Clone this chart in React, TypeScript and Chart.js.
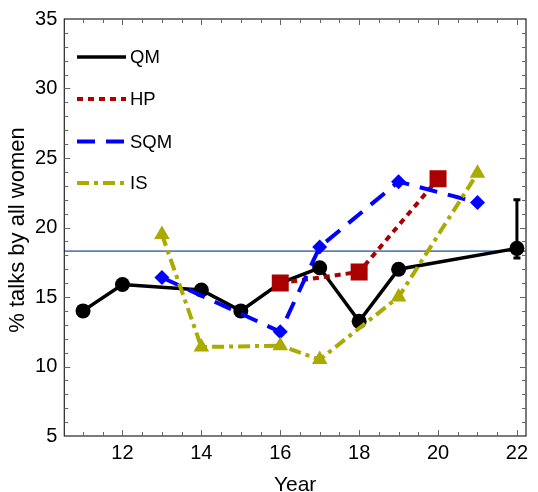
import React, { useEffect, useRef } from "react";
import { Chart, registerables } from "chart.js";
Chart.register(...registerables);

// ---- data ----
const qmYears = [11, 12, 14, 15, 16, 17, 18, 19, 22];
const qmValues = [14.0, 15.9, 15.5, 14.0, 16.0, 17.1, 13.25, 17.0, 18.5];
const hpYears = [16, 18, 20];
const hpValues = [16.0, 16.8, 23.5];
const sqmYears = [13, 16, 17, 19, 21];
const sqmValues = [16.4, 12.5, 18.6, 23.3, 21.8];
const isYears = [13, 14, 16, 17, 19, 21];
const isValues = [19.5, 11.4, 11.5, 10.5, 15.0, 23.9];
const referenceLevel = 18.3;
const qmErrorYear = 22;
const qmErrorLow = 17.8;
const qmErrorHigh = 22.0;
const xTickLabels = [12, 14, 16, 18, 20, 22];
const yTickLabels = [5, 10, 15, 20, 25, 30, 35];
const legendLabels = ["QM", "HP", "SQM", "IS"];
const xTitle = "Year";
const yTitle = "% talks by all women";

const FONT = "'Liberation Sans', Arial, sans-serif";
const colors = ["#000000", "#aa0000", "#0000ff", "#aaaa00"];
const dashes: number[][] = [[], [6, 5], [18, 11], [12, 5, 4, 5]];
const widths = [3.5, 4, 4, 4];

const pts = (xs: number[], ys: number[]) => xs.map((x, i) => ({ x, y: ys[i] }));

const decorPlugin = {
  id: "decor",
  beforeDatasetsDraw(chart: any) {
    const { ctx, chartArea: a, scales } = chart;
    const y = scales.y.getPixelForValue(referenceLevel);
    ctx.save();
    ctx.strokeStyle = "#5e81b5";
    ctx.lineWidth = 1.6;
    ctx.beginPath();
    ctx.moveTo(a.left, y);
    ctx.lineTo(a.right, y);
    ctx.stroke();
    ctx.restore();
  },
  afterDatasetsDraw(chart: any) {
    const { ctx, chartArea: a, scales } = chart;
    const xs = scales.x, ys = scales.y;
    ctx.save();
    // error bar
    const ex = xs.getPixelForValue(qmErrorYear);
    const e1 = ys.getPixelForValue(qmErrorLow);
    const e2 = ys.getPixelForValue(qmErrorHigh);
    ctx.strokeStyle = "#000";
    ctx.lineWidth = 3;
    ctx.beginPath();
    ctx.moveTo(ex, e1);
    ctx.lineTo(ex, e2);
    ctx.moveTo(ex - 3.5, e1);
    ctx.lineTo(ex + 3.5, e1);
    ctx.moveTo(ex - 3.5, e2);
    ctx.lineTo(ex + 3.5, e2);
    ctx.stroke();

    // frame
    ctx.strokeStyle = "#222";
    ctx.lineWidth = 1.2;
    ctx.strokeRect(a.left, a.top, a.right - a.left, a.bottom - a.top);

    // ticks
    ctx.strokeStyle = "#666";
    ctx.lineWidth = 1;
    ctx.beginPath();
    for (let v = 11; v <= 22.001; v += 0.5) {
      const px = Math.round(xs.getPixelForValue(v)) + 0.5;
      const len = Math.abs(v % 2) < 1e-6 ? 6 : 4;
      ctx.moveTo(px, a.bottom);
      ctx.lineTo(px, a.bottom - len);
      ctx.moveTo(px, a.top);
      ctx.lineTo(px, a.top + len);
    }
    for (let v = 6; v <= 34; v += 1) {
      const py = Math.round(ys.getPixelForValue(v)) + 0.5;
      const len = v % 5 === 0 ? 6 : 4;
      ctx.moveTo(a.left, py);
      ctx.lineTo(a.left + len, py);
      ctx.moveTo(a.right, py);
      ctx.lineTo(a.right - len, py);
    }
    ctx.stroke();

    // legend
    const ly = [57, 99, 141.5, 183];
    ctx.font = `18.5px ${FONT}`;
    ctx.textBaseline = "middle";
    ctx.textAlign = "left";
    legendLabels.forEach((lab, i) => {
      ctx.strokeStyle = colors[i];
      ctx.lineWidth = widths[i];
      ctx.setLineDash(dashes[i]);
      ctx.beginPath();
      ctx.moveTo(77, ly[i]);
      ctx.lineTo(126, ly[i]);
      ctx.stroke();
      ctx.setLineDash([]);
      ctx.fillStyle = "#000";
      ctx.fillText(lab, 130, ly[i] + 1);
    });

    // axis titles
    ctx.fillStyle = "#000";
    ctx.font = `21px ${FONT}`;
    ctx.textAlign = "center";
    ctx.textBaseline = "alphabetic";
    ctx.fillText(xTitle, (a.left + a.right) / 2, 490.5);
    ctx.font = `22px ${FONT}`;
    ctx.translate(24, 230);
    ctx.rotate(-Math.PI / 2);
    ctx.fillText(yTitle, 0, 0);
    ctx.restore();
  },
};

export default function App() {
  const ref = useRef<HTMLCanvasElement>(null);
  useEffect(() => {
    if (!ref.current) return;
    const mk = (i: number, data: any[], style: string, radius: number, order: number) => ({
      label: legendLabels[i],
      data,
      borderColor: colors[i],
      backgroundColor: colors[i],
      borderWidth: widths[i],
      borderDash: dashes[i],
      pointStyle: style,
      pointRadius: radius,
      pointBorderWidth: 0,
      pointBackgroundColor: colors[i],
      pointBorderColor: colors[i],
      tension: 0,
      order,
    });
    const chart = new Chart(ref.current, {
      type: "line",
      data: {
        datasets: [
          mk(0, pts(qmYears, qmValues), "circle", 7.5, 4),
          mk(1, pts(hpYears, hpValues), "rect", 12, 3),
          mk(2, pts(sqmYears, sqmValues), "rectRot", 7.5, 2),
          mk(3, pts(isYears, isValues), "triangle", 9, 1),
        ] as any,
      },
      options: {
        animation: false,
        responsive: true,
        maintainAspectRatio: false,
        layout: { padding: { top: 14.3, right: 5.5, left: 0, bottom: 0 } },
        plugins: { legend: { display: false }, tooltip: { enabled: false } },
        scales: {
          x: {
            type: "linear",
            min: 10.525,
            max: 22.23,
            grid: { display: false, drawTicks: false },
            border: { display: false },
            afterBuildTicks: (s: any) => {
              s.ticks = xTickLabels.map((v) => ({ value: v }));
            },
            afterFit: (s: any) => {
              s.height = 56;
            },
            ticks: {
              color: "#000",
              font: { family: FONT, size: 20 },
              padding: 5,
              maxRotation: 0,
              autoSkip: false,
            },
          },
          y: {
            type: "linear",
            min: 5,
            max: 35,
            grid: { display: false, drawTicks: false },
            border: { display: false },
            afterBuildTicks: (s: any) => {
              s.ticks = yTickLabels.map((v) => ({ value: v }));
            },
            afterFit: (s: any) => {
              s.width = 64.3;
            },
            ticks: {
              color: "#000",
              font: { family: FONT, size: 20 },
              padding: 7,
              autoSkip: false,
            },
          },
        },
      },
      plugins: [decorPlugin],
    });
    return () => chart.destroy();
  }, []);
  return (
    <div style={{ position: "fixed", left: 0, top: 0, width: 538, height: 492, background: "#fff" }}>
      <canvas ref={ref} />
    </div>
  );
}
